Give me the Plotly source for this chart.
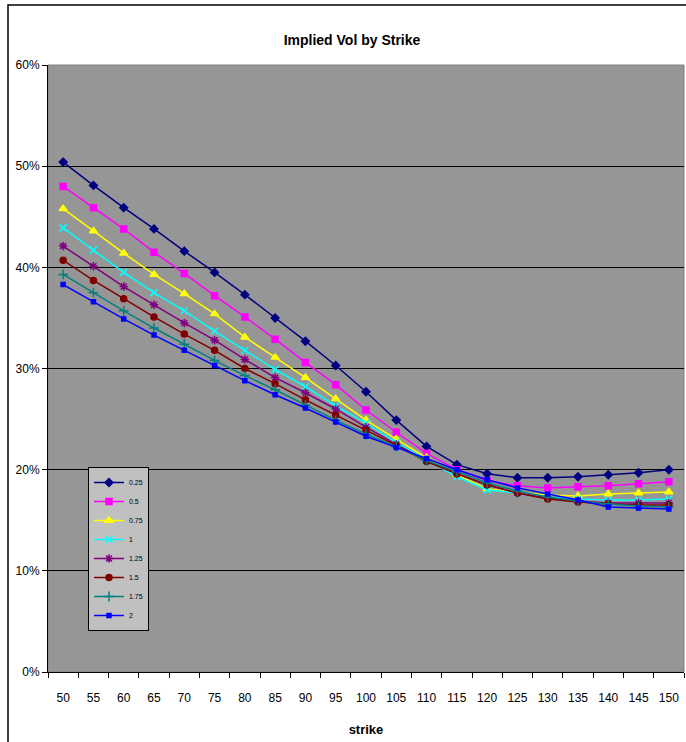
import plotly.graph_objects as go

strikes = [50, 55, 60, 65, 70, 75, 80, 85, 90, 95, 100, 105, 110, 115, 120, 125, 130, 135, 140, 145, 150]
strike_labels = [str(s) for s in strikes]

vol_025 = [50.4, 48.1, 45.9, 43.8, 41.6, 39.5, 37.3, 35.0, 32.7, 30.3, 27.7, 24.9, 22.3, 20.5, 19.6, 19.2, 19.2, 19.3, 19.5, 19.7, 20.0]
vol_050 = [48.0, 45.9, 43.8, 41.5, 39.4, 37.2, 35.1, 32.9, 30.6, 28.4, 25.9, 23.7, 21.6, 20.0, 18.9, 18.4, 18.2, 18.3, 18.4, 18.6, 18.8]
vol_075 = [45.8, 43.6, 41.4, 39.3, 37.4, 35.4, 33.1, 31.1, 29.1, 27.0, 24.9, 23.0, 21.2, 19.5, 18.1, 17.8, 17.5, 17.4, 17.6, 17.7, 17.8]
vol_100 = [43.9, 41.7, 39.5, 37.5, 35.7, 33.7, 31.8, 29.9, 28.2, 26.3, 24.6, 22.7, 21.0, 19.3, 18.0, 17.7, 17.3, 17.1, 17.0, 17.0, 17.1]
vol_125 = [42.1, 40.1, 38.1, 36.3, 34.5, 32.8, 30.9, 29.1, 27.6, 26.0, 24.2, 22.5, 20.9, 19.6, 18.5, 17.7, 17.2, 16.9, 16.7, 16.7, 16.7]
vol_150 = [40.7, 38.7, 36.9, 35.1, 33.4, 31.8, 30.0, 28.5, 26.9, 25.4, 23.9, 22.4, 20.8, 19.6, 18.5, 17.7, 17.1, 16.8, 16.6, 16.5, 16.5]
vol_175 = [39.3, 37.5, 35.7, 34.0, 32.4, 30.8, 29.3, 27.9, 26.4, 24.9, 23.5, 22.3, 20.9, 19.8, 18.7, 17.9, 17.3, 16.9, 16.6, 16.4, 16.3]
vol_200 = [38.3, 36.6, 34.9, 33.3, 31.8, 30.3, 28.8, 27.4, 26.1, 24.7, 23.3, 22.2, 21.1, 20.0, 19.0, 18.2, 17.6, 17.0, 16.3, 16.2, 16.1]

series_names = ["0.25", "0.5", "0.75", "1", "1.25", "1.5", "1.75", "2"]
series_values = [vol_025, vol_050, vol_075, vol_100, vol_125, vol_150, vol_175, vol_200]
series_colors = ["#000080", "#FF00FF", "#FFFF00", "#00FFFF", "#800080", "#800000", "#008080", "#0000FF"]
series_symbols = ["diamond", "square", "triangle-up", "x-thin-open", "asterisk-open", "circle", "cross-thin-open", "square"]
series_sizes = [6, 6, 7, 7, 7, 6, 7, 4]

FONT = "Liberation Sans, Arial, sans-serif"

fig = go.Figure()
for name, vals, col, sym, sz in zip(series_names, series_values, series_colors, series_symbols, series_sizes):
    fig.add_trace(go.Scatter(
        x=strike_labels, y=vals, name=name, mode="lines+markers",
        line=dict(color=col, width=1.5),
        marker=dict(symbol=sym, size=sz, color=col, line=dict(color=col, width=1.5)),
    ))

W, H = 686, 742
L, R, T, B = 48, 2, 65, 70
pw = W - L - R
ph = H - T - B

def px(xp):
    return (xp - L) / pw

def py(yp):
    return (H - B - yp) / ph

fig.update_layout(
    width=W, height=H,
    margin=dict(l=L, r=R, t=T, b=B),
    paper_bgcolor="white",
    plot_bgcolor="#969696",
    font=dict(family=FONT, size=12, color="black"),
    title=dict(text="<b>Implied Vol by Strike</b>", x=(352) / W, xanchor="center",
               y=1 - 40 / H, yanchor="middle", font=dict(family=FONT, size=14, color="black")),
    showlegend=True,
    legend=dict(x=px(88), y=py(631), xanchor="left", yanchor="bottom",
                bgcolor="#C0C0C0", bordercolor="black", borderwidth=1,
                font=dict(family=FONT, size=7, color="black"),
                itemwidth=30, tracegroupgap=0),
    xaxis=dict(type="category", range=[-0.5, len(strikes) - 0.5],
               tickson="boundaries", ticks="outside", ticklen=5,
               tickcolor="black", showline=True, linecolor="black", linewidth=1,
               showgrid=False, zeroline=False, ticklabelstandoff=15, tickangle=0,
               tickfont=dict(family=FONT, size=12, color="black"),
               title=dict(text="<b>strike</b>", font=dict(family=FONT, size=13), standoff=20)),
    yaxis=dict(range=[0, 60], dtick=10, ticksuffix="%", ticks="outside", ticklen=5,
               tickcolor="black", showline=True, linecolor="black", linewidth=1,
               showgrid=True, gridcolor="black", gridwidth=1, zeroline=False,
               tickfont=dict(family=FONT, size=12, color="black")),
)

# plot area border (gray) and outer chart frame
fig.add_shape(type="rect", xref="paper", yref="paper", x0=0, x1=1, y0=0, y1=1,
              line=dict(color="#808080", width=1), layer="below")
fig.add_shape(type="rect", xref="paper", yref="paper",
              x0=px(8), x1=px(700), y0=py(760), y1=py(5),
              line=dict(color="black", width=1.5), layer="above")

fig.write_html("out.html")
